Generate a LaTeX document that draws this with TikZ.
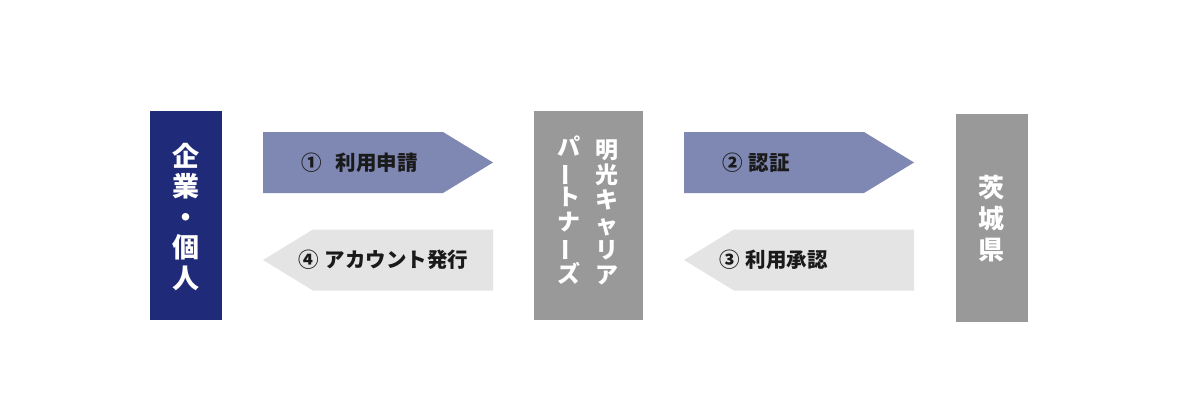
\documentclass[tikz,border=0pt]{standalone}
\usepackage{fontspec}
\newfontfamily\cjk{Noto Sans CJK JP}
\usetikzlibrary{positioning,calc}
\definecolor{navy}{HTML}{1F2A78}
\definecolor{flowblue}{HTML}{7F87B3}
\definecolor{flowgray}{HTML}{E4E4E4}
\definecolor{boxgray}{HTML}{999999}
\definecolor{ink}{HTML}{1A1A1A}
\newcommand{\tatebar}{\rotatebox[origin=c]{90}{ー}}

\begin{document}
\begin{tikzpicture}[x=1pt,y=-1pt,
    party/.style={inner sep=0pt, minimum width=72pt, minimum height=209pt},
    tate/.style={inner sep=0pt, text=white, align=center},
    steplabel/.style={inner sep=0pt, anchor=west, text=ink, font=\cjk\bfseries\fontsize{20.5}{24}\selectfont}]
  \useasboundingbox[fill=white] (0,0) rectangle (1200,412);
  \def\ah{30.5}% half height of a step arrow
  \def\tip{50}% length of its point
  \def\len{230}

  % the three parties
  \node[party, fill=navy] (user) at (186,215.5) {};
  \node[party, fill=boxgray, minimum width=109pt] (meiko) at (588.5,215.5) {};
  \node[party, fill=boxgray, minimum height=208pt] (pref) at (991.5,218) {};

  \node[tate, font=\cjk\bfseries\fontsize{27}{30.5}\selectfont] (usertxt) at (186,217) {企\\業\\・\\個\\人};
  \node[tate, font=\cjk\bfseries\fontsize{23}{25}\selectfont] (meikoa) at (607,212) {明\\光\\キ\\ャ\\リ\\ア};
  \node[tate, font=\cjk\bfseries\fontsize{23}{25}\selectfont] (meikob) at (569,210) {パ\\\tatebar\\ト\\ナ\\\tatebar\\ズ};
  \node[tate, font=\cjk\bfseries\fontsize{26}{31}\selectfont] (preftxt) at (991.5,219) {茨\\城\\県};

  % steps to the right
  \foreach \x/\name/\txt in {263/apply/{①\hspace{14pt}利用申請}, 684/auth/{②\hspace{6pt}認証}} {
    \fill[flowblue] (\x,162.5-\ah) -- ++(\len-\tip,0) -- ++(\tip,\ah) -- ++(-\tip,\ah) -- ++(\tip-\len,0) -- cycle;
    \node[steplabel] (\name) at (\x+38,162.5) {\txt};
  }
  % steps to the left
  \foreach \x/\name/\txt in {263/issue/{④\hspace{6pt}アカウント発行}, 684/grant/{③\hspace{6pt}利用承認}} {
    \fill[flowgray] (\x,260) -- ++(\tip,-\ah) -- ++(\len-\tip,0) -- ++(0,2*\ah) -- ++(\tip-\len,0) -- cycle;
    \node[steplabel] (\name) at (\x+35,260) {\txt};
  }
\end{tikzpicture}
\end{document}
